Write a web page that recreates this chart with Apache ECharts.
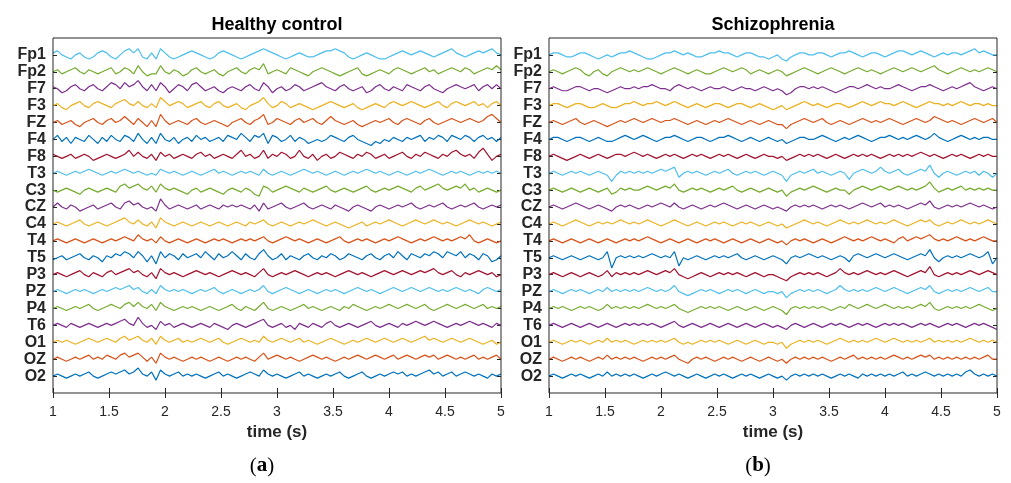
<!DOCTYPE html>
<html>
<head>
<meta charset="utf-8">
<script src="https://cdn.jsdelivr.net/npm/echarts@6/dist/echarts.min.js"></script>
<style>html,body{margin:0;padding:0;background:#fff}#c{width:1011px;height:483px}</style>
</head>
<body>
<div id="c"></div>
<script>
// ---- channel names (top to bottom) ----
const channels = ['Fp1','Fp2','F7','F3','FZ','F4','F8','T3','C3','CZ','C4','T4','T5','P3','PZ','P4','T6','O1','OZ','O2'];
const xTicks = [1,1.5,2,2.5,3,3.5,4,4.5,5];
const panelTitles = ['Healthy control','Schizophrenia'];
const panelTags = ['a','b'];
const xAxisTitle = 'time (s)';
const tStart = 1, tEnd = 5;

// ---- Healthy control traces (amplitude, arbitrary units, +up), 1 s .. 5 s ----
const hFp1=[1,2,0,-1,-2,0,1,-1,-2,-1, 1,2,1,-1,-2,0,2,3,1,3, -1,-2,1,-2,3,1,-1,-2,-1,0, 1,2,1,0,-1,-2,-1,1,2,1, 0,-1,-2,-1,0,1,2,3,2,1, 0,-1,-2,-1,0,1,0,-1,-1,0, 1,2,2,3,2,1,-1,-2,-1,0, 1,0,-1,-2,-2,-1,0,1,2,1, 0,1,2,1,0,-1,0,1,2,3, 1,0,-1,0,1,2,1,2,3,1, 0];
const hFp2=[0,1,-1,0,1,2,0,-1,1,0, -1,0,1,2,-1,0,2,1,-1,3, 0,-2,-1,-1,3,0,-1,1,0,-2, -1,1,2,0,-1,0,1,-1,-2,0, 1,2,0,-1,1,2,1,4,-1,0, 1,0,-1,2,1,0,-1,-2,0,1, 2,1,0,-1,-2,-1,0,1,2,-1, -2,-1,0,1,0,-1,1,2,1,0, -1,0,1,2,0,1,-1,0,1,2, 1,0,2,1,-1,0,1,2,1,3, 1];
const hF7=[1,0,-2,-1,1,2,0,-1,1,2, 0,-1,1,3,2,0,3,1,2,4, 1,-1,2,-1,3,1,-2,0,2,1, -1,2,3,1,-1,0,1,-1,-2,0, 1,0,-1,1,2,0,-1,3,1,-2, 0,1,-1,0,2,1,-1,0,1,2, 3,1,0,-1,1,2,0,-1,0,1, -2,-1,1,2,0,-1,1,0,-1,2, 1,0,-1,1,2,0,-1,-2,0,1, 2,1,0,1,2,-1,1,2,0,2, 0];
const hF3=[0,1,-1,-2,0,1,2,0,-1,1, 2,1,0,-1,1,2,3,1,0,2, 0,-1,1,-1,4,2,0,1,2,1, -1,0,1,2,0,-1,1,2,0,-1, 0,1,-1,-2,0,1,2,4,1,-1, 0,2,1,-1,0,1,0,-1,-2,-1, 0,1,2,1,0,-1,0,1,-1,-2, -1,0,1,0,-1,1,2,1,0,1, 2,1,0,-1,0,1,2,0,-1,1, 2,1,0,1,2,0,1,-1,1,2, 0];
const hFZ=[0,1,-1,0,1,-1,-2,0,1,2, 0,-1,1,2,0,1,3,1,-1,2, 0,-2,1,-2,4,1,-1,0,1,0, -1,1,2,0,-1,0,1,0,-1,-2, 0,1,2,0,-1,1,2,4,-1,0, 2,1,0,-1,1,2,0,1,2,0, -1,1,3,1,0,-1,0,1,-1,-2, -1,0,1,0,1,2,0,-1,1,2, 1,0,-1,1,2,0,-1,0,1,2, 1,0,1,2,1,0,1,3,4,2, 0];
const hF4=[0,2,-1,1,-2,1,0,-1,2,0, -2,1,-1,2,0,-1,2,1,-1,3, 0,-2,1,-2,3,0,-1,1,-2,0, 1,-1,2,0,1,-1,0,1,-1,2, 1,0,3,1,-1,2,1,3,-2,2, 1,-1,0,2,-1,1,0,-2,-1,0, -1,0,2,1,0,-1,1,2,0,-1, -2,-3,-1,-2,0,-1,1,0,-1,1, 0,1,2,-1,1,0,2,1,-1,2, 1,0,2,1,-1,1,2,0,1,-1, 1];
const hF8=[1,0,-1,0,1,-1,0,1,0,-2, -1,0,1,0,-1,0,1,3,0,2, 0,-1,1,-2,2,0,1,-1,0,1, 0,-1,1,2,0,1,-1,0,1,0, -1,1,3,0,1,-1,0,3,-1,1, 0,2,1,-1,0,3,0,-1,1,-2, 0,1,-1,0,2,1,0,-1,1,0, 2,1,-1,0,1,-1,0,1,2,0, -1,1,0,2,1,0,-1,1,0,2, 3,1,0,1,-1,2,4,1,-2,0, 1];
const hT3=[0,1,0,-1,0,1,0,1,2,1, 0,-1,0,1,0,1,2,1,0,1, 0,-1,0,-1,2,1,0,1,0,-1, 0,1,0,-1,0,1,2,0,1,0, -1,0,1,0,1,0,-1,2,0,-1, 0,1,0,-1,0,1,2,1,0,1, 0,-1,0,1,0,-1,0,1,0,1, 2,1,0,1,0,-1,0,1,0,-1, 0,1,0,1,2,1,0,-1,0,1, 0,1,0,-1,0,1,0,1,0,1, 0];
const hC3=[0,-1,0,1,0,-1,-2,0,1,0, -1,0,1,0,-1,2,3,1,2,3, 1,0,2,-1,3,1,0,1,0,-1, -2,0,1,-1,0,1,0,-1,-2,0, 1,0,-1,1,0,-2,-3,2,1,-1, 0,1,2,1,0,-1,1,0,-1,0, 1,2,0,-1,0,1,0,-1,0,1, 2,0,-1,0,1,0,1,2,1,0, -1,1,2,0,1,2,3,1,0,1, 2,1,3,0,1,-1,0,1,0,-1, 0];
const hCZ=[0,2,0,-1,1,0,-2,-1,0,1, -1,0,1,2,0,-1,2,3,1,2, 0,-1,0,-2,4,1,-1,0,1,0, -1,0,1,-1,0,1,0,-1,1,0, 1,0,1,0,-1,1,-2,2,-1,0, 1,2,0,-1,0,1,2,0,-1,0, 1,0,-1,1,0,-1,-2,0,1,0, -1,-2,0,1,0,-1,0,1,0,1, 2,0,-1,0,1,0,1,2,0,-1, 0,1,0,1,2,0,-1,0,1,0, 1];
const hC4=[0,1,0,-1,0,1,2,0,-1,0, 1,0,-1,0,1,2,3,1,0,2, 0,-1,1,-2,3,1,0,-1,0,1, 0,-1,0,1,0,-1,0,1,0,-1, 0,1,0,-1,1,0,1,2,0,-1, 0,1,0,-1,0,1,0,1,2,1, 0,-1,0,1,0,-1,-2,-1,0,1, -1,0,1,0,1,2,1,0,-1,0, 1,2,1,0,1,2,1,0,1,0, -1,0,1,2,1,0,1,0,-1,0, 1];
const hT4=[0,1,0,-1,0,1,0,-1,0,1, 0,-1,0,1,0,1,2,1,0,3, 1,0,1,-1,2,0,-1,0,1,0, -1,0,1,0,-1,0,1,0,1,0, -1,0,1,0,1,0,1,2,0,-1, 0,1,2,1,0,1,0,-1,0,1, 0,-1,0,1,2,0,-1,0,1,0, 1,0,-1,0,1,0,1,2,1,0, -1,0,1,0,1,2,1,0,1,0, 1,2,1,3,0,-1,0,1,0,-1, 0];
const hT5=[-1,0,1,-1,0,1,2,0,-1,1, 0,-2,1,0,2,1,3,2,0,3, 1,-2,1,-3,3,0,2,1,-1,2, 0,1,2,0,3,1,-1,2,0,1, 3,1,-1,2,0,-1,2,4,1,-1, 0,2,-1,1,0,-1,1,2,0,-1, 1,0,2,1,-1,0,2,1,0,-1, 1,2,0,-1,1,2,0,3,1,-1, 2,1,0,2,1,3,2,0,3,2, 1,3,0,2,1,-1,2,1,-2,-1, 1];
const hP3=[0,1,0,-1,0,1,2,0,-1,1, 0,-1,1,2,0,1,2,3,1,2, 0,-1,1,-2,3,1,0,1,0,-1, 0,1,2,1,0,1,0,-1,0,1, 2,1,0,1,0,-1,1,3,0,-1, 0,1,0,1,2,1,0,-1,0,1, 0,1,0,-1,0,1,2,1,0,1, 0,-1,0,1,2,1,0,1,2,1, 0,1,2,1,2,3,1,0,1,2, 0,-1,1,0,1,2,1,0,1,-1, 0];
const hPZ=[0,1,0,-1,0,1,0,1,0,-1, 0,1,0,1,2,1,2,3,1,2, 0,-1,1,-1,3,1,0,1,0,1, 0,-1,0,1,0,1,2,0,-1,0, 1,0,-1,0,1,0,1,3,0,-1, 0,1,2,1,0,-1,0,1,0,-1, 0,1,0,1,0,-1,0,1,2,1, 0,1,0,-1,0,1,2,1,0,1, 2,1,0,1,2,1,0,1,0,1, 2,1,0,1,0,-1,1,2,1,0, 1];
const hP4=[0,1,0,-1,0,1,0,1,2,0, -1,0,1,2,1,0,2,3,1,3, 1,0,2,-1,3,1,0,-1,0,1, 0,1,0,-1,0,1,0,-1,0,1, 2,0,-1,1,0,-1,1,3,0,-1, 0,1,0,-1,0,1,2,0,1,0, -1,0,1,0,-1,1,0,2,1,0, -1,0,1,0,1,2,1,0,1,2, 1,0,1,2,0,-1,0,1,2,1, 0,1,2,1,0,1,2,0,1,0, 1];
const hT6=[0,1,0,-1,1,0,-1,0,1,0, -1,0,1,0,1,2,3,1,0,4, 1,-1,0,-2,2,0,1,-1,0,1, 0,-1,0,1,0,-1,1,0,-1,-2, 0,1,0,-1,0,1,2,3,0,-1, 0,1,-1,0,-2,1,0,-1,1,0, -1,1,2,0,-1,0,1,0,-1,0, 1,2,0,-1,0,1,0,-1,1,0, 1,2,1,0,1,2,1,0,-1,0, 1,0,1,2,1,0,1,0,-1,1, 0];
const hO1=[0,1,0,1,0,-1,0,1,2,1, 0,1,2,1,0,2,3,1,2,3, 1,0,2,-1,3,1,0,1,2,0, 1,0,1,2,1,0,1,2,0,-1, 0,1,2,1,0,1,0,3,1,0, 1,2,1,0,1,2,0,1,0,-1, 0,1,2,1,0,-1,0,1,0,1, 2,1,0,1,2,1,0,1,2,1, 0,1,2,3,1,2,1,0,1,2, 1,0,1,2,1,0,-1,0,1,-1, 0];
const hOZ=[0,1,0,-1,0,1,0,1,2,0, 1,0,2,1,0,2,3,1,2,3, 1,-1,1,-2,3,1,0,1,0,-1, 0,1,0,1,0,-1,0,1,0,-1, 0,1,0,1,0,-1,1,3,0,1, 2,1,0,1,0,-1,0,1,2,1, 0,1,0,-1,0,1,0,1,2,1, 0,1,2,1,0,1,2,0,1,2, 1,0,1,2,1,2,0,1,2,1, 0,1,0,1,2,0,1,0,1,2, 0];
const hO2=[0,1,0,-1,0,1,0,1,2,0, -1,0,1,2,1,2,3,1,2,4, 1,0,2,-2,3,1,0,1,2,0, 1,0,1,0,-1,0,1,2,0,1, 0,-1,0,1,2,1,0,3,1,0, 1,0,-1,0,1,2,0,1,0,-1, 0,1,0,1,2,0,-1,0,1,2, 0,-1,0,1,0,1,2,1,2,0, 1,0,1,2,3,1,2,0,1,2, 0,1,2,1,0,1,0,-1,1,0, 1];

// ---- Schizophrenia traces ----
const sFp1=[0,1,1,0,-1,-1,0,1,1,0, -1,-2,-1,0,-1,0,1,1,2,1, 0,-1,-2,-2,-1,0,1,1,2,1, 0,1,0,-1,-1,0,1,1,2,1, 1,0,-1,0,1,1,0,-1,-1,-2, -1,0,-2,-3,-1,0,1,1,0,0, 1,1,0,-1,0,1,1,2,1,0, -1,0,1,1,0,-1,0,1,2,2, 1,0,1,2,1,0,-1,0,1,0, 1,1,0,1,2,3,1,2,1,0, 0];
const sFp2=[0,1,0,-1,0,1,2,1,-1,-2, 0,1,-1,-2,0,1,2,1,0,1, 0,1,2,1,0,-1,0,1,2,1, 0,-1,0,1,0,-1,-1,0,1,2, 1,0,1,2,1,-1,0,1,0,-1, 0,1,0,-2,-1,0,1,2,1,0, -1,0,1,2,1,0,-1,0,1,2, 1,0,1,0,-1,0,1,2,1,0, 1,2,1,0,1,2,3,1,0,-1, 0,1,2,1,0,1,0,1,2,1, 0];
const sF7=[0,1,0,-1,-1,0,1,1,0,-1, 0,0,-1,-2,-1,0,1,0,0,1, 0,1,1,2,1,0,0,-1,1,2, 1,0,1,0,-1,0,1,0,0,1, 0,-1,0,1,0,0,-1,0,1,0, -1,0,-1,-3,-2,0,1,1,0,1, 0,1,0,-1,-2,-1,0,1,1,0, 1,2,1,0,1,0,0,1,2,1, 0,-1,0,1,1,2,1,0,-1,0, 1,0,1,2,3,1,0,-1,0,1, 0];
const sF3=[0,1,1,0,-1,0,1,1,0,-1, -1,0,1,0,-1,-1,0,1,1,2, 1,0,1,1,2,1,0,1,2,1, 0,-1,0,1,0,-1,0,1,1,0, -1,0,1,1,0,-1,0,1,0,-1, -2,-1,0,-2,-1,0,1,2,1,0, 1,0,-1,0,1,1,0,-1,0,1, 2,1,0,1,2,1,1,0,1,2, 1,0,-1,0,1,2,1,1,0,1, 0,1,2,1,0,1,1,0,1,0, 0];
const sFZ=[0,1,0,-1,0,1,2,0,-1,0, 1,0,-1,-2,-1,0,1,0,1,2, 1,0,1,2,1,0,1,1,2,1, 0,-1,0,1,0,-1,0,1,0,1, 2,1,0,-1,0,1,0,-1,0,1, 0,-1,-1,-3,-1,0,1,2,1,0, 1,2,0,-1,0,1,0,-1,0,1, 2,1,0,1,0,1,2,1,0,-1, 0,1,2,1,0,1,3,2,1,0, 1,0,-1,0,1,2,1,0,1,2, 0];
const sF4=[0,1,1,0,-1,0,1,1,0,-1, 0,1,0,-1,-1,0,1,2,1,0, 1,2,1,0,-1,0,1,1,2,1, 0,-1,0,1,1,0,-1,0,1,1, 2,1,0,-1,0,1,0,-1,0,1, 0,-1,0,-2,-1,0,1,1,0,0, 1,2,1,0,-1,0,1,0,1,2, 1,0,-1,0,1,1,2,1,0,1, 0,1,2,1,0,1,3,1,0,-1, 0,1,2,1,0,1,0,1,1,0, 0];
const sF8=[0,1,0,-1,-2,-1,0,1,0,-1, 0,1,0,-1,0,1,1,0,1,2, 1,0,1,0,-1,0,1,0,1,0, -1,0,1,0,1,0,-1,0,1,0, 1,0,-1,0,1,0,-1,0,1,0, 0,-1,0,-2,-1,0,1,0,1,0, 1,0,-1,0,1,0,-1,0,1,0, 1,0,1,0,-1,0,1,0,1,0, 1,0,1,2,1,0,1,0,-1,0, 1,0,1,0,-1,0,1,0,1,0, 0];
const sT3=[0,1,0,-1,0,1,0,1,0,-1, 0,1,0,-1,-4,-1,1,0,1,0, 1,0,1,0,1,2,1,2,3,-2, 0,1,0,1,0,-1,0,1,0,1, 2,0,-1,0,1,0,1,0,-1,0, 1,0,-1,-4,-1,0,1,0,1,2, 0,1,0,-1,0,1,0,-3,0,1, 2,1,0,1,3,1,0,1,2,0, -1,0,1,2,1,4,0,-2,0,1, 0,-1,0,1,0,1,-1,1,0,-2, 0];
const sC3=[0,1,0,-1,0,1,0,-1,0,1, 0,-1,0,1,-2,-1,1,0,1,0, 0,1,2,1,0,1,2,1,3,0, -1,0,1,0,1,0,-1,0,1,0, 1,2,0,-1,0,1,0,-1,0,1, 0,-1,0,-3,-1,0,1,0,1,2, 1,0,-1,0,1,0,0,-2,0,1, 2,1,0,1,2,1,0,1,2,1, 0,1,0,1,2,4,1,-1,0,1, 0,1,2,0,1,0,1,0,1,0, 0];
const sCZ=[0,1,0,-1,0,1,2,1,0,-1, 0,1,0,-1,-2,0,1,0,1,0, -1,0,1,0,1,2,1,0,2,0, -1,0,1,0,-1,0,1,0,1,2, 1,0,-1,0,1,0,-1,0,1,0, -1,0,-1,-2,0,1,0,1,0,1, 0,-1,0,1,0,1,0,-1,0,1, 2,1,0,1,2,0,1,0,1,0, -1,0,1,2,1,3,0,-1,0,1, 0,1,0,1,2,1,0,1,0,-1, 0];
const sC4=[0,1,0,-1,0,1,2,1,0,-1, 0,1,0,1,0,1,2,1,0,1, 0,1,2,1,0,-1,0,1,2,1, 0,-1,0,1,0,-1,0,1,0,1, 0,-1,0,1,0,1,0,-1,0,1, 0,-1,0,-2,-1,0,1,2,1,0, 1,0,-1,0,1,2,1,0,1,0, 1,2,1,0,1,0,1,2,1,0, -1,0,1,2,1,2,0,-1,0,1, 0,1,2,1,0,1,0,1,2,1, 0];
const sT4=[0,1,0,-1,0,1,0,-1,0,1, 0,-1,0,1,0,-1,0,1,0,1, 0,1,2,1,0,-1,0,1,0,-1, 0,1,0,-1,0,1,0,1,0,-1, 0,1,0,-1,0,1,0,-1,0,1, 0,-1,0,-2,0,1,0,1,0,-1, 0,1,0,-1,0,1,2,1,0,1, 0,1,2,1,0,1,0,-1,1,2, 0,1,2,1,2,3,1,0,1,0, 1,2,1,0,1,0,1,2,1,0, 0];
const sT5=[0,1,0,-1,0,1,0,-1,0,1, 0,-1,0,3,-5,0,1,0,1,0, 1,0,1,2,1,0,1,0,3,-4, 0,-1,0,1,0,-1,0,1,0,1, 0,1,2,0,-1,0,1,0,-1,0, 1,0,-1,-3,0,1,0,1,2,1, 0,1,0,-1,0,1,0,-2,1,2, 1,0,1,2,1,0,1,2,1,0, -1,0,1,2,1,4,0,-2,0,1, 0,1,0,1,2,1,0,1,3,-3, 0];
const sP3=[0,1,0,-1,0,1,0,-1,0,1, 0,-1,0,2,-1,1,0,1,0,1, 0,1,2,1,0,1,2,1,3,0, -1,-2,-1,0,1,0,-1,0,1,0, 1,0,1,0,-1,0,1,0,-1,0, 0,-1,-2,-3,-1,0,1,0,1,0, 1,0,-1,0,1,3,1,0,1,0, 1,2,1,0,1,0,1,2,1,0, -1,0,1,2,1,4,0,-1,0,1, 0,1,0,1,2,1,0,1,2,1, 0];
const sPZ=[0,1,0,-1,0,1,0,1,0,-1, 0,1,0,2,0,1,0,1,0,1, 0,1,2,1,0,1,0,1,3,0, -1,-2,-1,0,1,0,1,0,-1,0, 1,0,1,0,-1,0,1,0,-1,0, 0,-1,0,-3,-1,0,1,0,1,0, 1,0,-1,0,1,3,1,0,1,0, 1,0,1,2,1,0,1,2,1,0, -1,0,1,2,1,3,0,-1,0,1, 0,1,0,1,2,1,0,1,2,0, 0];
const sP4=[0,1,0,1,0,-1,0,1,0,1, 0,-1,0,2,0,1,0,1,0,1, 0,1,2,1,0,1,0,1,2,0, -1,-2,-1,0,1,0,1,0,1,0, -1,0,1,0,-1,0,1,0,-1,0, 1,0,-1,-3,0,1,0,1,0,1, 0,1,0,-1,0,1,0,2,1,0, 1,2,1,0,1,2,1,0,1,0, 1,0,1,2,1,3,0,-1,0,1, 0,1,0,1,0,1,2,1,0,-1, 0];
const sT6=[0,1,0,-1,0,1,0,-1,0,1, 0,-1,0,1,0,-1,0,1,0,1, 0,1,0,1,0,-1,0,1,2,0, -1,0,1,0,-1,0,1,0,-1,0, 1,0,-1,0,1,0,-1,0,1,0, -1,0,-1,-2,0,1,0,-1,0,1, 0,-1,0,1,0,1,0,-1,0,1, 0,1,0,-1,0,1,0,1,0,1, 0,-1,0,1,0,1,0,-1,0,1, 0,1,0,-1,0,1,0,1,0,-1, -2];
const sO1=[0,1,0,-1,0,1,0,1,0,-1, 0,1,0,2,0,1,0,1,0,-1, 0,1,0,1,0,1,0,1,2,0, -1,0,-1,0,1,0,1,0,1,0, -1,0,1,0,-1,0,1,0,-1,0, 0,-1,0,-3,-1,0,1,0,1,0, 1,0,-1,0,1,2,1,0,1,0, 1,0,1,2,1,0,1,2,1,0, 1,0,1,0,1,2,0,1,0,1, 0,1,0,1,2,1,0,1,0,1, 0];
const sOZ=[0,1,0,-1,0,1,0,1,0,-1, 0,1,0,2,0,1,0,1,0,1, 0,-1,0,1,0,1,0,1,2,0, -1,-2,0,1,0,1,0,-1,0,1, 0,1,0,-1,0,1,0,-1,0,1, 0,-1,0,-2,0,1,0,1,0,1, 0,1,0,-1,0,1,0,1,2,0, 1,0,1,0,1,0,1,2,1,0, 1,0,1,2,1,2,0,1,0,1, 0,1,0,1,0,1,0,1,2,0, 0];
const sO2=[0,1,0,-1,0,1,0,1,0,-1, 0,1,0,2,0,1,0,1,0,1, 0,-1,0,1,0,1,2,1,0,1, 0,-1,0,1,0,-1,0,1,0,1, 0,-1,0,1,0,1,0,-1,0,1, 0,-1,0,-2,0,1,0,1,0,1, 0,1,0,-1,0,1,0,1,0,-1, 1,0,1,0,1,0,1,0,1,2, 0,1,0,1,2,1,0,1,0,1, 0,1,0,2,3,1,0,1,0,1, 0];

const healthyRows = [hFp1,hFp2,hF7,hF3,hFZ,hF4,hF8,hT3,hC3,hCZ,hC4,hT4,hT5,hP3,hPZ,hP4,hT6,hO1,hOZ,hO2];
const schizoRows  = [sFp1,sFp2,sF7,sF3,sFZ,sF4,sF8,sT3,sC3,sCZ,sC4,sT4,sT5,sP3,sPZ,sP4,sT6,sO1,sOZ,sO2];

// ---- styling / building ----
const matlabColors = ['#0072BD','#D95319','#EDB120','#7E2F8E','#77AC30','#4DBEEE','#A2142F'];
const ampScale = 0.12; // channel-spacing units per amplitude unit
const nCh = channels.length;
const FONT = 'Liberation Sans';

function buildSeries(rows, gi) {
  return rows.map((vals, k) => {
    const offset = nCh - k;           // Fp1 at top
    const bottomIdx = nCh - 1 - k;    // MATLAB plots from bottom (O2 first)
    const n = vals.length;
    const data = vals.map((v, i) => [tStart + (tEnd - tStart) * i / (n - 1), offset + v * ampScale]);
    return {
      type: 'line', xAxisIndex: gi * 2, yAxisIndex: gi * 2, data,
      showSymbol: false, symbol: 'none', animation: false, silent: true,
      lineStyle: { width: 1.2, color: matlabColors[bottomIdx % 7] },
      z: 3
    };
  });
}

const grids = [
  { left: 53, right: 510, top: 38, bottom: 90 },
  { left: 549, right: 14, top: 38, bottom: 90 }
];
const xAxes = [], yAxes = [];
grids.forEach((g, gi) => {
  xAxes.push({
    type: 'value', gridIndex: gi, min: tStart, max: tEnd, interval: 0.5, position: 'bottom',
    axisLine: { show: false }, splitLine: { show: false },
    axisTick: { show: true, inside: true, length: 5, lineStyle: { color: '#262626' } },
    axisLabel: { show: true, fontFamily: FONT, fontSize: 14, color: '#262626', margin: 12,
      formatter: v => xTicks.includes(v) ? String(v) : '' },
    name: xAxisTitle, nameLocation: 'middle', nameGap: 28,
    nameTextStyle: { fontFamily: FONT, fontSize: 17, fontWeight: 'bold', color: '#262626' }
  });
  xAxes.push({
    type: 'value', gridIndex: gi, min: tStart, max: tEnd, interval: 0.5, position: 'top',
    axisLine: { show: false }, splitLine: { show: false }, axisLabel: { show: false },
    axisTick: { show: true, inside: true, length: 5, lineStyle: { color: '#262626' } }
  });
  yAxes.push({
    type: 'value', gridIndex: gi, min: 0, max: nCh + 1, interval: 1, position: 'left',
    axisLine: { show: false }, splitLine: { show: false },
    axisTick: { show: true, inside: true, length: 4, lineStyle: { color: '#262626' },
      customValues: channels.map((c, k) => nCh - k) },
    axisLabel: { show: true, fontFamily: FONT, fontSize: 16, fontWeight: 'bold', color: '#262626', margin: 7,
      customValues: channels.map((c, k) => nCh - k),
      formatter: v => (v >= 1 && v <= nCh) ? channels[nCh - v] : '' }
  });
  yAxes.push({
    type: 'value', gridIndex: gi, min: 0, max: nCh + 1, interval: 1, position: 'right',
    axisLine: { show: false }, splitLine: { show: false }, axisLabel: { show: false },
    axisTick: { show: true, inside: true, length: 4, lineStyle: { color: '#262626' },
      customValues: channels.map((c, k) => nCh - k) }
  });
});

const chart = echarts.init(document.getElementById('c'), null, { renderer: 'canvas' });
const graphics = [];
grids.forEach((g, gi) => {
  const x0 = g.left, x1 = 1011 - g.right, y0 = g.top, y1 = 483 - g.bottom;
  graphics.push({ type: 'rect', shape: { x: x0, y: y0, width: x1 - x0, height: y1 - y0 },
    style: { fill: 'none', stroke: '#262626', lineWidth: 1 }, z: 10, silent: true });
  graphics.push({ type: 'text', x: (x0 + x1) / 2, y: 25,
    style: { text: panelTitles[gi], fontFamily: FONT, fontSize: 18, fontWeight: 'bold', fill: '#000',
      textAlign: 'center', textVerticalAlign: 'middle' }, z: 10 });
  graphics.push({ type: 'text', x: (x0 + x1) / 2 - 15, y: 466,
    style: { text: '(' + '{b|' + panelTags[gi] + '})', fontFamily: 'Liberation Serif', fontSize: 21, fill: '#000',
      textAlign: 'center', textVerticalAlign: 'middle',
      rich: { b: { fontFamily: 'Liberation Serif', fontSize: 21, fontWeight: 'bold', fill: '#000' } } }, z: 10 });
});

chart.setOption({
  animation: false,
  backgroundColor: '#fff',
  grid: grids,
  xAxis: xAxes,
  yAxis: yAxes,
  series: [...buildSeries(healthyRows, 0), ...buildSeries(schizoRows, 1)],
  graphic: graphics
});
</script>
</body>
</html>
